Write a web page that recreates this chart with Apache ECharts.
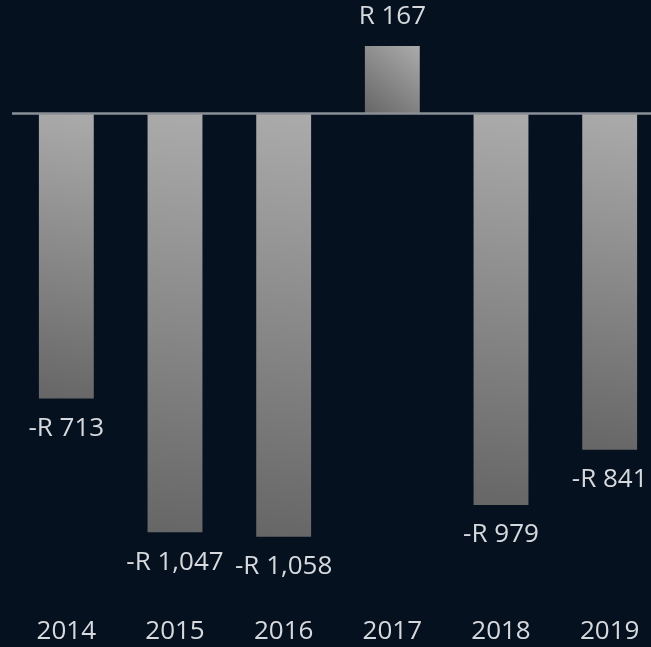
<!DOCTYPE html>
<html>
<head>
<meta charset="utf-8">
<script src="https://cdn.jsdelivr.net/npm/echarts@6/dist/echarts.min.js"></script>
<style>
html,body{margin:0;padding:0;background:#061120;}
#chart{width:651px;height:647px;}
</style>
</head>
<body>
<div id="chart"></div>
<script>
const categories = ['2014', '2015', '2016', '2017', '2018', '2019'];
const values = [-713, -1047, -1058, 167, -979, -841];

function fmt(v) {
  const s = Math.abs(v).toLocaleString('en-US');
  return (v < 0 ? '-R ' : 'R ') + s;
}

const chart = echarts.init(document.getElementById('chart'));
chart.setOption({
  backgroundColor: '#061120',
  animation: false,
  grid: { left: 12, width: 652, top: 32.9, bottom: 53.4, containLabel: false, outerBoundsMode: 'none' },
  xAxis: {
    type: 'category',
    data: categories,
    position: 'bottom',
    axisLine: { show: false, onZero: false },
    axisTick: { show: false },
    axisLabel: { color: '#d6dade', fontFamily: 'Open Sans', fontSize: 26, margin: 25 }
  },
  yAxis: {
    type: 'value',
    min: -1200,
    max: 200,
    show: false,
    splitLine: { show: false }
  },
  series: [{
    type: 'bar',
    data: values,
    barWidth: '50.5%',
    itemStyle: {
      color: new echarts.graphic.LinearGradient(0, 1, 1, 0, [
        { offset: 0, color: '#666666' },
        { offset: 1, color: '#ababab' }
      ])
    },
    label: {
      show: true,
      position: 'outside',
      distance: 17,
      color: '#d6dade',
      fontFamily: 'Open Sans',
      fontSize: 26,
      formatter: p => fmt(p.value)
    },
    labelLayout: { hideOverlap: false },
    markLine: {
      silent: true,
      symbol: ['none', 'none'],
      label: { show: false },
      lineStyle: { color: '#8a8f96', width: 2.5, type: 'solid' },
      data: [{ yAxis: 0 }]
    }
  }]
});
</script>
</body>
</html>
